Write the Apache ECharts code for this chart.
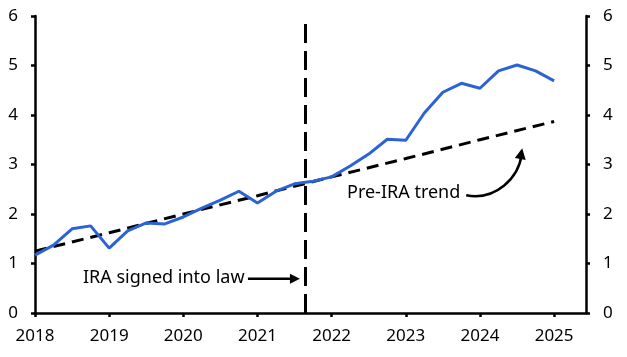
<!DOCTYPE html>
<html><head><meta charset="utf-8">
<script src="https://cdn.jsdelivr.net/npm/echarts@6/dist/echarts.min.js"></script>
<style>html,body{margin:0;padding:0;background:#fff}#c{width:627px;height:357px}</style>
</head><body><div id="c"></div>
<script>
var quarters = ['2018-Q1','2018-Q2','2018-Q3','2018-Q4','2019-Q1','2019-Q2','2019-Q3','2019-Q4',
  '2020-Q1','2020-Q2','2020-Q3','2020-Q4','2021-Q1','2021-Q2','2021-Q3','2021-Q4',
  '2022-Q1','2022-Q2','2022-Q3','2022-Q4','2023-Q1','2023-Q2','2023-Q3','2023-Q4',
  '2024-Q1','2024-Q2','2024-Q3','2024-Q4','2025-Q1'];
var actualValues = [1.17,1.37,1.70,1.76,1.31,1.66,1.82,1.80,1.94,2.12,2.28,2.46,2.22,2.46,2.61,2.66,
  2.75,2.97,3.21,3.51,3.49,4.04,4.46,4.64,4.54,4.89,5.01,4.89,4.69];
var trendYears = [2018,2019,2020,2021,2022,2023,2024,2025];
var trendValues = [1.25,1.62,2.00,2.37,2.75,3.12,3.50,3.87];
var yTicks = [0,1,2,3,4,5,6];
var xTickYears = [2018,2019,2020,2021,2022,2023,2024,2025];
var iraDate = 2021.64;
var xMax = 2025.43;

function qToNum(q){var p=q.split('-Q');return +p[0]+(+p[1]-1)/4;}
var actualData = quarters.map(function(q,i){return [qToNum(q), actualValues[i]];});
var trendData = trendYears.map(function(y,i){return [y, trendValues[i]];});

var FONT = 'Noto Sans';
var chart = echarts.init(document.getElementById('c'), null, {renderer:'canvas'});
var axisLine = {show:true, lineStyle:{color:'#000', width:2.5}};
var yAxisBase = {
  type:'value', min:yTicks[0], max:yTicks[yTicks.length-1], interval:1,
  axisLine:axisLine, axisTick:{show:true, length:4, lineStyle:{color:'#000', width:2.5}},
  splitLine:{show:false},
  axisLabel:{color:'#000', fontFamily:FONT, fontSize:17, margin:17}
};
chart.setOption({
  animation:false,
  grid:{left:35, right:41, top:16, bottom:44},
  xAxis:{type:'value', min:xTickYears[0], max:xMax, interval:1,
    axisLine:axisLine, axisTick:{show:true, length:4, lineStyle:{color:'#000', width:2.5}},
    splitLine:{show:false},
    axisLabel:{color:'#000', fontFamily:FONT, fontSize:17, margin:15, showMaxLabel:false,
      formatter:function(v){return xTickYears.indexOf(v)>=0 ? String(v) : '';}}
  },
  yAxis:[
    Object.assign({}, yAxisBase, {position:'left'}),
    Object.assign({}, yAxisBase, {position:'right'})
  ],
  series:[
    {type:'line', data:trendData, symbol:'none', z:3,
     lineStyle:{color:'#000', width:3, type:[12,7]},
     markLine:{silent:true, symbol:'none', label:{show:false},
       lineStyle:{color:'#000', width:3, type:[19,8]},
       data:[{xAxis:iraDate}]}},
    {type:'line', data:actualData, symbol:'none', z:4,
     lineStyle:{color:'#2b62d4', width:3}}
  ]
});

function px(x,y){return chart.convertToPixel({gridIndex:0},[x,y]);}
function arrowHead(tip, from, len, half){
  var dx=tip[0]-from[0], dy=tip[1]-from[1], d=Math.sqrt(dx*dx+dy*dy); dx/=d; dy/=d;
  var bx=tip[0]-dx*len, by=tip[1]-dy*len;
  return [[tip[0],tip[1]],[bx-dy*half,by+dx*half],[bx+dy*half,by-dx*half]];
}
var iraTip = px(iraDate, 0.69); iraTip[0] -= 5;
var iraStart = [iraTip[0]-52, iraTip[1]];
var trendTip = px(2024.57, 3.33);
var trendStart = [trendTip[0]-56, trendTip[1]+47];
var cp1 = [trendStart[0]+30, trendStart[1]+6];
var cp2 = [trendTip[0]-3, trendTip[1]+28];
chart.setOption({graphic:[
  {type:'text', x:83, y:iraTip[1]-1, style:{text:'IRA signed into law', fill:'#000', font:'18px "'+FONT+'"', verticalAlign:'middle'}},
  {type:'line', shape:{x1:iraStart[0], y1:iraStart[1], x2:iraTip[0]-8, y2:iraTip[1]}, style:{stroke:'#000', lineWidth:2.5}},
  {type:'polygon', shape:{points:arrowHead(iraTip,iraStart,10,5)}, style:{fill:'#000'}},
  {type:'text', x:347, y:trendStart[1]-2, style:{text:'Pre-IRA trend', fill:'#000', font:'18px "'+FONT+'"', verticalAlign:'middle'}},
  {type:'bezierCurve', shape:{x1:trendStart[0], y1:trendStart[1], cpx1:cp1[0], cpy1:cp1[1], cpx2:cp2[0], cpy2:cp2[1], x2:trendTip[0]-1, y2:trendTip[1]+8}, style:{stroke:'#000', lineWidth:2.5, fill:null}},
  {type:'polygon', shape:{points:arrowHead(trendTip,[cp2[0]-2,cp2[1]],11,5.5)}, style:{fill:'#000'}}
]});
</script></body></html>
